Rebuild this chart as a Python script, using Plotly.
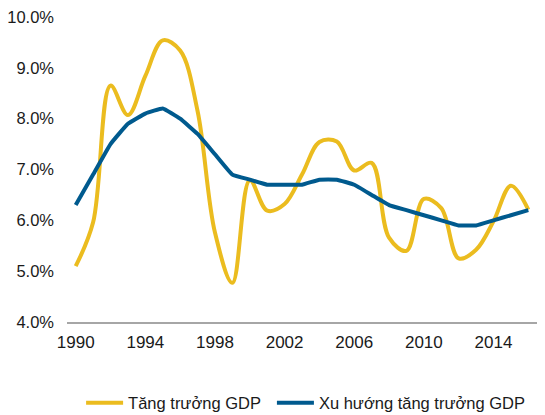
import plotly.graph_objects as go

years = list(range(1990, 2017))
gdp_growth = [5.10, 5.96, 8.65, 8.07, 8.84, 9.54, 9.34, 8.15, 5.76, 4.77,
              6.79, 6.19, 6.32, 6.90, 7.54, 7.55, 6.98, 7.13, 5.66, 5.40,
              6.42, 6.24, 5.25, 5.42, 5.98, 6.68, 6.21]
gdp_trend = [6.3, 6.9, 7.5, 7.9, 8.1, 8.2, 8.0, 7.7, 7.3, 6.9,
             6.8, 6.7, 6.7, 6.7, 6.8, 6.8, 6.7, 6.5, 6.3, 6.2,
             6.1, 6.0, 5.9, 5.9, 6.0, 6.1, 6.2]
x_ticks = [1990, 1994, 1998, 2002, 2006, 2010, 2014]
y_ticks = [4, 5, 6, 7, 8, 9, 10]
y_tick_labels = ["4.0%", "5.0%", "6.0%", "7.0%", "8.0%", "9.0%", "10.0%"]

FONT = "Liberation Sans, Arial, sans-serif"
YELLOW = "#EBBC1F"
BLUE = "#005A8E"

fig = go.Figure()
fig.add_trace(go.Scatter(x=years, y=gdp_growth, mode="lines", name="Tăng trưởng GDP",
                         legend="legend",
                         line=dict(color=YELLOW, width=4, shape="spline", smoothing=1.0)))
fig.add_trace(go.Scatter(x=years, y=gdp_trend, mode="lines", name="Xu hướng tăng trưởng GDP",
                         legend="legend2",
                         line=dict(color=BLUE, width=4, shape="spline", smoothing=0.3)))

leg_common = dict(orientation="h", xanchor="left", yref="container", y=0.029,
                  yanchor="middle", font=dict(size=16.5), itemwidth=37,
                  bgcolor="rgba(0,0,0,0)")

fig.update_layout(
    width=545, height=415,
    margin=dict(l=67, r=8, t=17, b=93, autoexpand=False),
    paper_bgcolor="white", plot_bgcolor="white",
    font=dict(family=FONT, size=16.5, color="#1a1a1a"),
    showlegend=True,
    legend=dict(x=0.03, **leg_common),
    legend2=dict(x=0.436, **leg_common),
    xaxis=dict(range=[1989.5, 2016.5], tickvals=x_ticks, showgrid=False, zeroline=False,
               showline=True, linecolor="#A6A6A6", linewidth=1.5, ticks="",
               ticklabelstandoff=4, tickfont=dict(size=17), automargin=False),
    yaxis=dict(range=[4, 10], tickvals=y_ticks, ticktext=y_tick_labels,
               showgrid=False, zeroline=False, showline=False, ticks="",
               ticklabelstandoff=12, automargin=False),
)

fig.write_html("out.html", config={"displayModeBar": False},
               post_script="document.body.style.margin='0';")
